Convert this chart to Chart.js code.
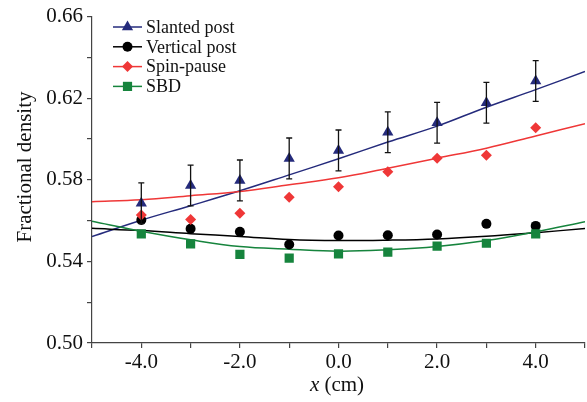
<!DOCTYPE html>
<html>
<head>
<meta charset="utf-8">
<script src="https://cdn.jsdelivr.net/npm/chart.js@4.4.0/dist/chart.umd.min.js"></script>
<style>
  html, body { margin: 0; padding: 0; background: #fff; }
  #chart { display: block; }
</style>
</head>
<body>
<canvas id="chart" width="587" height="402"></canvas>
<script>
// Measurement positions (cm)
const positions = [-4, -3, -2, -1, 0, 1, 2, 3, 4];

// Measured fractional density per method
const slantedPost = [0.5685, 0.5772, 0.5797, 0.5905, 0.5944, 0.6033, 0.6080, 0.6178, 0.6284];
const slantedErr = [0.01, 0.01, 0.01, 0.01, 0.01, 0.01, 0.01, 0.01, 0.01];
const verticalPost = [0.5603, 0.5560, 0.5545, 0.5483, 0.5527, 0.5528, 0.5532, 0.5584, 0.5574];
const spinPause = [0.5628, 0.5605, 0.5636, 0.5714, 0.5766, 0.5839, 0.5906, 0.5920, 0.6055];
const sbd = [0.5535, 0.5486, 0.5434, 0.5416, 0.5437, 0.5445, 0.5475, 0.5489, 0.5535];

// Fitted curves at whole cm
const fitX = [-5, -4, -3, -2, -1, 0, 1, 2, 3, 4, 5];
const slantedFit = [0.5522, 0.5602, 0.5673, 0.5746, 0.5824, 0.5903, 0.5985, 0.6063, 0.6156, 0.6242, 0.6331];
const verticalFit = [0.5562, 0.5551, 0.5536, 0.5522, 0.5507, 0.5502, 0.5504, 0.5510, 0.5523, 0.5541, 0.5561];
const spinFit = [0.5693, 0.5702, 0.5722, 0.5743, 0.5776, 0.5810, 0.5857, 0.5906, 0.5955, 0.6015, 0.6075];
const sbdFit = [0.5597, 0.5548, 0.5506, 0.5473, 0.5460, 0.5450, 0.5457, 0.5473, 0.5502, 0.5545, 0.5595];

// Labelled ticks
const xTickLabels = [-4, -2, 0, 2, 4];
const yTickLabels = [0.50, 0.54, 0.58, 0.62, 0.66];

const FONT = "'Liberation Serif', 'Times New Roman', serif";
const NAVY = "#252b7c";
const RED = "#ef3737";
const GREEN = "#16843d";
const BLACK = "#000000";

const toXY = (xs, ys) => xs.map((x, i) => ({ x: x, y: ys[i] }));

const series = [
  { label: "Slanted post", color: NAVY, style: "triangle", radius: 6.5, pts: slantedPost, fit: slantedFit },
  { label: "Vertical post", color: BLACK, style: "circle", radius: 5, pts: verticalPost, fit: verticalFit },
  { label: "Spin-pause", color: RED, style: "rectRot", radius: 5.5, pts: spinPause, fit: spinFit },
  { label: "SBD", color: GREEN, style: "rect", radius: 6.5, pts: sbd, fit: sbdFit },
];

const datasets = [];
series.forEach((s, i) => {
  datasets.push({
    label: s.label,
    data: toXY(positions, s.pts),
    pointStyle: s.style,
    pointRadius: s.radius,
    backgroundColor: s.color,
    borderColor: s.color,
    borderWidth: 0,
    showLine: false,
    order: 10 - i,
  });
  datasets.push({
    label: s.label + " fit",
    data: toXY(fitX, s.fit),
    showLine: true,
    pointRadius: 0,
    borderColor: s.color,
    borderWidth: 1.5,
    tension: 0.4,
    fill: false,
    order: 20 - i,
  });
});

// Error bars on the slanted post points
const errorBars = {
  id: "errorBars",
  afterDatasetsDraw(chart) {
    const { ctx, scales: { x, y } } = chart;
    ctx.save();
    ctx.strokeStyle = "#111";
    ctx.lineWidth = 1.3;
    positions.forEach((p, i) => {
      const px = x.getPixelForValue(p);
      const top = y.getPixelForValue(slantedPost[i] + slantedErr[i]);
      const bot = y.getPixelForValue(slantedPost[i] - slantedErr[i]);
      ctx.beginPath();
      ctx.moveTo(px, top); ctx.lineTo(px, bot);
      ctx.moveTo(px - 3, top); ctx.lineTo(px + 3, top);
      ctx.moveTo(px - 3, bot); ctx.lineTo(px + 3, bot);
      ctx.stroke();
    });
    ctx.restore();
  },
};

// Legend with line + marker samples, and the axis titles
const decorations = {
  id: "decorations",
  afterDraw(chart) {
    const ctx = chart.ctx;
    ctx.save();
    ctx.textBaseline = "middle";
    ctx.textAlign = "left";
    series.forEach((s, i) => {
      const cy = 27 + i * 19.8;
      ctx.strokeStyle = s.color;
      ctx.lineWidth = 1.5;
      ctx.beginPath();
      ctx.moveTo(113, cy); ctx.lineTo(142, cy);
      ctx.stroke();
      ctx.fillStyle = s.color;
      Chart.helpers.drawPoint(ctx, { pointStyle: s.style, radius: s.radius, rotation: 0, borderWidth: 0 }, 127.5, cy);
      ctx.font = "18px " + FONT;
      ctx.fillStyle = "#111";
      ctx.fillText(s.label, 146, cy + 1);
    });

    // y title
    ctx.font = "21px " + FONT;
    ctx.fillStyle = "#111";
    ctx.translate(25, 167);
    ctx.rotate(-Math.PI / 2);
    ctx.textAlign = "center";
    ctx.fillText("Fractional density", 0, 0);
    ctx.restore();

    // x title, italic x
    ctx.save();
    ctx.fillStyle = "#111";
    ctx.textBaseline = "alphabetic";
    ctx.textAlign = "left";
    ctx.font = "italic 21px " + FONT;
    const wx = ctx.measureText("x").width;
    ctx.font = "21px " + FONT;
    const wr = ctx.measureText(" (cm)").width;
    const start = 337 - (wx + wr) / 2;
    ctx.font = "italic 21px " + FONT;
    ctx.fillText("x", start, 391);
    ctx.font = "21px " + FONT;
    ctx.fillText(" (cm)", start + wx, 391);
    ctx.restore();
  },
};

const axisColor = "#444";

new Chart(document.getElementById("chart").getContext("2d"), {
  type: "scatter",
  data: { datasets: datasets },
  options: {
    responsive: false,
    animation: false,
    layout: { autoPadding: false, padding: { top: 15, right: 2, left: 0, bottom: 0 } },
    plugins: { legend: { display: false }, tooltip: { enabled: false } },
    scales: {
      x: {
        type: "linear",
        min: -5,
        max: 5,
        afterFit: (scale) => { scale.height = 59; },
        border: { display: true, color: axisColor, width: 1.2 },
        grid: { drawOnChartArea: false, drawTicks: true, tickLength: 5, color: axisColor, lineWidth: 1.2 },
        ticks: {
          stepSize: 1,
          padding: 2,
          color: "#111",
          font: { family: FONT, size: 21 },
          maxRotation: 0,
          autoSkip: false,
          callback: (v) => (xTickLabels.includes(v) ? v.toFixed(1) : ""),
        },
      },
      y: {
        min: 0.5,
        max: 0.66,
        afterFit: (scale) => { scale.width = 92; },
        border: { display: true, color: axisColor, width: 1.2 },
        grid: { drawOnChartArea: false, drawTicks: true, tickLength: 5, color: axisColor, lineWidth: 1.2 },
        ticks: {
          stepSize: 0.02,
          padding: 4,
          color: "#111",
          font: { family: FONT, size: 21 },
          autoSkip: false,
          callback: (v) => {
            const r = Math.round(v * 100) / 100;
            return yTickLabels.some((t) => Math.abs(t - r) < 1e-6) ? r.toFixed(2) : "";
          },
        },
      },
    },
  },
  plugins: [errorBars, decorations],
});
</script>
</body>
</html>
